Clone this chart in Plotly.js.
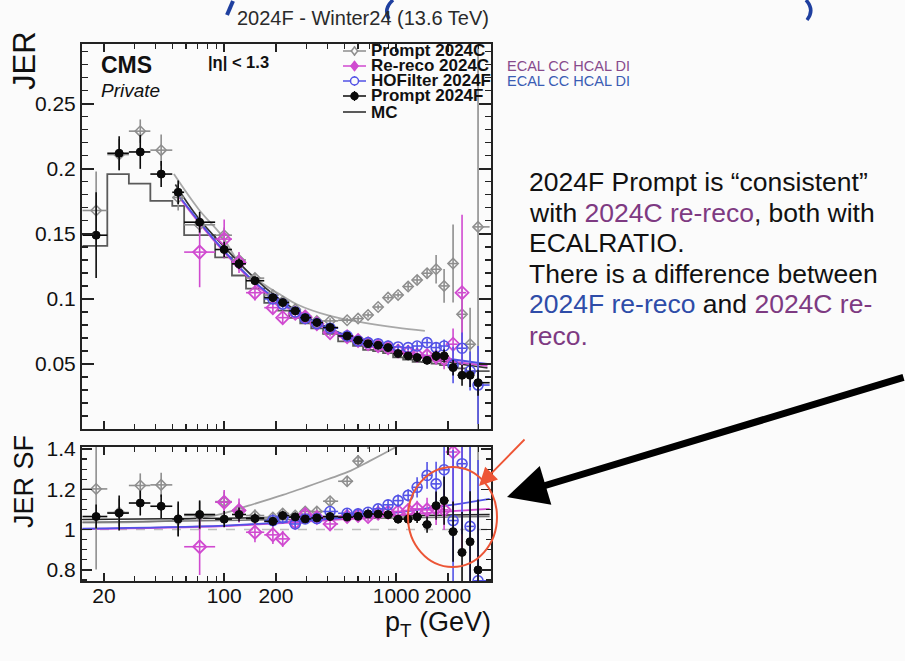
<!DOCTYPE html>
<html><head><meta charset="utf-8">
<script src="https://cdn.plot.ly/plotly-3.0.1.min.js"></script>
<style>html,body{margin:0;padding:0;background:#fbfbfb;}#chart{width:905px;height:661px;}</style>
</head><body><div id="chart"></div>
<script>
// ---------------- data ----------------
const pt = [18, 24.5, 32.5, 43, 54, 72, 100, 122, 151, 192, 219, 259, 296, 346, 413, 519, 601, 687, 786, 898, 1027, 1175, 1325, 1514, 1709, 1902, 2145, 2419, 2694, 2997];
const ptEdges = [15, 20.9, 27.9, 37.2, 49.9, 58.5, 88.6, 111, 134, 171, 206, 239, 277, 321, 376, 460, 562, 643, 735, 840, 961, 1099, 1248, 1416, 1608, 1802, 2020, 2279, 2555, 2840, 3500];

// JER (upper panel)
const jerPrompt24C = [0.168, 0.211, 0.229, 0.2144, 0.178, 0.157, 0.149, 0.130, 0.116, 0.103, 0.098, 0.092, 0.087, 0.083, 0.0831, 0.0836, 0.0849, 0.0877, 0.0938, 0.101, 0.1031, 0.1095, 0.1146, 0.1198, 0.1228, 0.110, 0.1272, 0.0882, 0.0652, 0.1554];
const errPrompt24C = [0.03, 0.012, 0.009, 0.012, 0.01, 0.008, 0.006, 0.005, 0.004, 0.003, 0.003, 0.002, 0.002, 0.002, 0.002, 0.002, 0.002, 0.002, 0.002, 0.002, 0.002, 0.003, 0.003, 0.004, 0.011, 0.013, 0.03, 0.02, 0.028, 0.2];
const jerRereco24C = [null, null, null, null, null, 0.136, 0.146, 0.128, 0.1048, 0.0933, 0.0856, 0.089, 0.086, 0.081, 0.0741, 0.071, 0.068, 0.0655, 0.064, 0.0625, 0.060, 0.059, 0.0568, 0.0565, 0.0554, 0.0539, 0.0652, 0.1048, null, null];
const errRereco24C = [null, null, null, null, null, 0.027, 0.015, 0.008, 0.006, 0.005, 0.005, 0.004, 0.004, 0.003, 0.003, 0.003, 0.003, 0.003, 0.003, 0.003, 0.003, 0.003, 0.003, 0.004, 0.006, 0.008, 0.012, 0.06, null, null];
const jerHOFilter24F = [null, null, null, null, null, null, null, null, null, 0.100, 0.096, 0.090, 0.085, 0.081, 0.0775, 0.0715, 0.0677, 0.0664, 0.0656, 0.0638, 0.0631, 0.0626, 0.0638, 0.0664, 0.0626, 0.0638, 0.0492, 0.0621, 0.0446, 0.0338];
const errHOFilter24F = [null, null, null, null, null, null, null, null, null, 0.003, 0.003, 0.002, 0.002, 0.002, 0.002, 0.002, 0.002, 0.002, 0.002, 0.002, 0.002, 0.002, 0.003, 0.003, 0.004, 0.005, 0.014, 0.012, 0.015, 0.03];
const jerPrompt24F = [0.149, 0.212, 0.213, 0.196, 0.182, 0.159, 0.138, 0.127, 0.114, 0.101, 0.0972, 0.0908, 0.0856, 0.0818, 0.0780, 0.0715, 0.0682, 0.0656, 0.0644, 0.0626, 0.0580, 0.0562, 0.0549, 0.0528, 0.0562, 0.0562, 0.0472, 0.0413, 0.0413, 0.0356];
const errPrompt24F = [0.033, 0.013, 0.013, 0.01, 0.009, 0.008, 0.006, 0.004, 0.003, 0.003, 0.002, 0.002, 0.002, 0.002, 0.002, 0.002, 0.002, 0.002, 0.002, 0.002, 0.002, 0.002, 0.003, 0.003, 0.004, 0.005, 0.006, 0.008, 0.009, 0.01];
const jerMC = [0.1408, 0.196, 0.1887, 0.1754, 0.1715, 0.149, 0.132, 0.118, 0.108, 0.097, 0.091, 0.0854, 0.0813, 0.0773, 0.0732, 0.0673, 0.064, 0.0609, 0.0598, 0.0583, 0.0551, 0.0534, 0.0516, 0.0515, 0.0502, 0.0491, 0.0477, 0.0466, 0.0440, 0.0445];

// fitted JER curves (upper panel)
const fitJerPt24C = [51, 71, 97, 125, 169, 217, 264, 413, 645, 1010, 1470];
const fitJer24C = [0.196, 0.169, 0.1485, 0.126, 0.1115, 0.1025, 0.0959, 0.0869, 0.0818, 0.0779, 0.0754];
const fitJerPt = [52, 70, 100, 150, 200, 300, 500, 1000, 2000, 3400];
const fitJer24F = [0.188, 0.163, 0.140, 0.116, 0.102, 0.0865, 0.0725, 0.0595, 0.0515, 0.047];
const fitJerHOF24F = [0.183, 0.161, 0.137, 0.113, 0.100, 0.0855, 0.0722, 0.0605, 0.054, 0.050];
const fitJerRereco24C = [0.182, 0.160, 0.136, 0.112, 0.099, 0.0848, 0.0715, 0.0598, 0.0525, 0.0485];

// JER SF (lower panel)
const sfPrompt24C = [1.202, 1.085, 1.219, 1.222, 1.05, 1.07, 1.139, 1.095, 1.07, 1.06, 1.08, 1.07, 1.09, 1.09, 1.141, 1.24, 1.34, 1.44, 1.57, 1.73, 1.87, 2.05, 2.22, 2.33, 2.45, 2.24, 2.67, 1.89, 1.48, 3.5];
const sfErrPrompt24C = [0.4, 0.07, 0.06, 0.06, 0.08, 0.07, 0.05, 0.04, 0.03, 0.025, 0.025, 0.02, 0.02, 0.02, 0.02, 0.025, 0.03, 0.04, 0.04, 0.05, 0.05, 0.06, 0.07, 0.1, 0.23, 0.27, 0.63, 0.43, 0.63, 4.5];
const sfRereco24C = [null, null, null, null, null, 0.915, 1.136, 1.095, 0.987, 0.974, 0.954, 1.036, 1.075, 1.06, 1.028, 1.065, 1.07, 1.065, 1.081, 1.086, 1.09, 1.095, 1.103, 1.098, 1.103, 1.098, 1.385, 2.2, null, null];
const sfErrRereco24C = [null, null, null, null, null, 0.14, 0.06, 0.06, 0.05, 0.045, 0.04, 0.035, 0.03, 0.025, 0.025, 0.025, 0.025, 0.025, 0.025, 0.03, 0.03, 0.035, 0.04, 0.06, 0.08, 0.1, 0.3, 1.3, null, null];
const sfHOFilter24F = [null, null, null, null, null, null, null, null, null, 1.045, 1.06, 1.028, 1.053, 1.055, 1.09, 1.081, 1.078, 1.086, 1.103, 1.123, 1.144, 1.17, 1.21, 1.269, 1.227, 1.297, 1.045, 1.327, 1.016, 0.746];
const sfErrHOFilter24F = [null, null, null, null, null, null, null, null, null, 0.03, 0.03, 0.02, 0.02, 0.02, 0.02, 0.02, 0.02, 0.02, 0.02, 0.025, 0.03, 0.03, 0.05, 0.066, 0.11, 0.15, 0.35, 0.35, 0.4, 0.6];
const sfPrompt24F = [1.065, 1.082, 1.132, 1.116, 1.053, 1.075, 1.052, 1.075, 1.055, 1.041, 1.07, 1.063, 1.053, 1.058, 1.065, 1.062, 1.066, 1.078, 1.077, 1.074, 1.052, 1.052, 1.063, 1.025, 1.119, 1.144, 0.99, 0.887, 0.94, 0.80];
const sfErrPrompt24F = [0.06, 0.087, 0.062, 0.058, 0.087, 0.07, 0.04, 0.035, 0.025, 0.02, 0.02, 0.015, 0.015, 0.015, 0.015, 0.015, 0.015, 0.015, 0.015, 0.02, 0.02, 0.025, 0.03, 0.04, 0.07, 0.12, 0.15, 0.2, 0.25, 0.35];

// fitted SF curves (lower panel)
const fitSfPt24C = [15, 50, 90, 140, 220, 400, 520, 700, 950, 1200];
const fitSf24C = [1.035, 1.045, 1.072, 1.12, 1.172, 1.25, 1.285, 1.34, 1.40, 1.45];
const fitSfPt = [15, 100, 300, 1000, 2000, 3500];
const fitSf24F = [1.05, 1.057, 1.063, 1.069, 1.072, 1.075];
const fitSfMC = [1.036, 1.045, 1.052, 1.058, 1.062, 1.065];
const fitSfHOF24F = [1.005, 1.02, 1.045, 1.085, 1.12, 1.153];
const fitSfRereco24C = [1.003, 1.018, 1.04, 1.07, 1.09, 1.103];

const xTickVals = [20, 100, 200, 1000, 2000];
const xTickText = ['20', '100', '200', '1000', '2000'];
const xMinorVals = [30, 40, 50, 60, 70, 80, 90, 300, 400, 500, 600, 700, 800, 900, 3000];
const yTopTickVals = [0.05, 0.1, 0.15, 0.2, 0.25];
const yTopTickText = ['0.05', '0.1', '0.15', '0.2', '0.25'];
const yBotTickVals = [0.8, 1, 1.2, 1.4];
const yBotTickText = ['0.8', '1', '1.2', '1.4'];

const legendLabels = ['Prompt 2024C', 'Re-reco 2024C', 'HOFilter 2024F', 'Prompt 2024F', 'MC'];

// ---------------- styling / construction ----------------
const W = 905, H = 661;
const PX = x => x / W, PY = y => 1 - y / H;
const FONT = 'Liberation Sans, Arial, Helvetica, sans-serif';
const C_GRAY = '#8e8e8e', C_MAG = '#d04ad0', C_BLUE = '#5252e6', C_BLACK = '#0a0a0a', C_MC = '#5a5a5a';

const exPlus = pt.map((p, i) => ptEdges[i + 1] - p);
const exMinus = pt.map((p, i) => p - ptEdges[i]);

function pts(y, err, name, color, symbol, size, xa, ya, lw) {
  return {
    type: 'scatter', mode: 'markers', x: pt, y: y, name: name, showlegend: false,
    xaxis: xa, yaxis: ya, cliponaxis: true,
    marker: {symbol: symbol, size: size, color: color, line: {color: color, width: lw}},
    error_y: {type: 'data', array: err, symmetric: true, color: color, thickness: 1.6, width: 0},
    error_x: {type: 'data', array: exPlus, arrayminus: exMinus, symmetric: false, color: color, thickness: 1.6, width: 0}
  };
}
function fit(x, y, color, w, xa, ya) {
  return {type: 'scatter', mode: 'lines', x: x, y: y, xaxis: xa, yaxis: ya, showlegend: false,
    line: {color: color, width: w, shape: 'spline'}, hoverinfo: 'skip'};
}

const traces = [
  {type: 'scatter', mode: 'lines', x: ptEdges, y: jerMC.concat([jerMC[jerMC.length - 1]]), xaxis: 'x2', yaxis: 'y2',
   showlegend: false, name: 'MC', line: {color: C_MC, width: 1.8, shape: 'hv'}},
  fit(fitJerPt24C, fitJer24C, '#a8a8a8', 1.8, 'x2', 'y2'),
  fit(fitJerPt, fitJer24F, '#333333', 1.6, 'x2', 'y2'),
  fit(fitJerPt, fitJerRereco24C, C_MAG, 1.8, 'x2', 'y2'),
  fit(fitJerPt, fitJerHOF24F, C_BLUE, 1.8, 'x2', 'y2'),
  pts(jerPrompt24C, errPrompt24C, 'Prompt 2024C', C_GRAY, 'diamond-open', 8, 'x2', 'y2', 1.5),
  pts(jerRereco24C, errRereco24C, 'Re-reco 2024C', C_MAG, 'diamond-open', 10, 'x2', 'y2', 1.8),
  pts(jerHOFilter24F, errHOFilter24F, 'HOFilter 2024F', C_BLUE, 'circle-open', 10, 'x2', 'y2', 1.6),
  pts(jerPrompt24F, errPrompt24F, 'Prompt 2024F', C_BLACK, 'circle', 8, 'x2', 'y2', 1),

  fit(fitSfPt24C, fitSf24C, '#a0a0a0', 1.8, 'x', 'y'),
  fit(fitSfPt, fitSfMC, '#777777', 1.5, 'x', 'y'),
  fit(fitSfPt, fitSf24F, '#222222', 1.5, 'x', 'y'),
  fit(fitSfPt, fitSfRereco24C, C_MAG, 1.8, 'x', 'y'),
  fit(fitSfPt, fitSfHOF24F, C_BLUE, 1.8, 'x', 'y'),
  pts(sfPrompt24C, sfErrPrompt24C, 'Prompt 2024C', C_GRAY, 'diamond-open', 8, 'x', 'y', 1.5),
  pts(sfRereco24C, sfErrRereco24C, 'Re-reco 2024C', C_MAG, 'diamond-open', 10, 'x', 'y', 1.8),
  pts(sfHOFilter24F, sfErrHOFilter24F, 'HOFilter 2024F', C_BLUE, 'circle-open', 10, 'x', 'y', 1.6),
  pts(sfPrompt24F, sfErrPrompt24F, 'Prompt 2024F', C_BLACK, 'circle', 8, 'x', 'y', 1)
];

const xDom = [PX(82), PX(491)];
const tickFont = {family: FONT, size: 21, color: '#111'};
function xAxis(anchor, labels) {
  return {domain: xDom, anchor: anchor, type: 'log', range: [1.173, 3.552],
    tickmode: 'array', tickvals: xTickVals, ticktext: xTickText, showticklabels: labels,
    ticks: 'inside', ticklen: 8, tickwidth: 1.5, tickcolor: '#222', ticklabelstandoff: -5,
    minor: {ticks: 'inside', ticklen: 5, tickwidth: 1.2, tickcolor: '#222', tickmode: 'array', tickvals: xMinorVals, showgrid: false},
    showline: true, linecolor: '#222', linewidth: 2, mirror: 'allticks',
    showgrid: false, zeroline: false, tickfont: tickFont};
}
function yAxis(anchor, dom, range, tv, tt, minorDt, tl) {
  return {domain: dom, anchor: anchor, range: range, tickmode: 'array', tickvals: tv, ticktext: tt,
    ticks: 'inside', ticklen: tl, tickwidth: 1.5, tickcolor: '#222',
    minor: {ticks: 'inside', ticklen: tl / 2, tickwidth: 1.2, tickcolor: '#222', dtick: minorDt, tick0: 0, showgrid: false},
    showline: true, linecolor: '#222', linewidth: 2, mirror: 'allticks',
    showgrid: false, zeroline: false, tickfont: tickFont};
}

function txt(text, x, y, size, o) {
  o = o || {};
  return {text: text, x: PX(x), y: PY(y), xref: 'paper', yref: 'paper', showarrow: false,
    xanchor: o.xa || 'left', yanchor: 'middle', textangle: o.angle || 0,
    font: {family: FONT, size: size, color: o.color || '#111'}};
}

const annotations = [
  txt('2024F - Winter24 (13.6 TeV)', 491, 18, 20, {xa: 'right', color: '#2a2a2a'}),
  txt('<b>CMS</b>', 99, 65, 23),
  txt('<i>Private</i>', 99, 90, 19),
  txt('<b>|η| < 1.3</b>', 206, 62, 16.5),
  txt('JER', 24, 61, 31, {xa: 'center', angle: -90}),
  txt('JER SF', 24, 482, 27, {xa: 'center', angle: -90}),
  txt('p<sub>T</sub> (GeV)', 493, 624, 27, {xa: 'right'}),
  txt('ECAL CC HCAL DI', 505, 66, 14.5, {color: '#874a8c'}),
  txt('ECAL CC HCAL DI', 505, 81, 14.5, {color: '#3a5cb4'}),
  txt('2024F Prompt is “consistent”', 527, 182, 26.5),
  txt('with <span style="color:#7e3a82">2024C re-reco</span>, both with', 527, 212.5, 26.5),
  txt('ECALRATIO.', 527, 243, 26.5),
  txt('There is a difference between', 527, 273.5, 26.5),
  txt('<span style="color:#2e4ca8">2024F re-reco</span> and <span style="color:#7e3a82">2024C re-</span>', 527, 304, 26.5),
  txt('<span style="color:#7e3a82">reco.</span>', 527, 336, 26.5),
  {x: PX(507), y: PY(497), xref: 'paper', yref: 'paper', text: '', showarrow: true,
   ax: 400, ay: -120, arrowhead: 2, arrowsize: 1.15, arrowwidth: 7, arrowcolor: '#000'},
  {x: PX(479), y: PY(486), xref: 'paper', yref: 'paper', text: '', showarrow: true,
   ax: 47, ay: -48, arrowhead: 2, arrowsize: 2, arrowwidth: 1.8, arrowcolor: '#ee5535'}
];

const legendRows = [51, 66, 81, 96, 112];
const legendColors = [C_GRAY, C_MAG, C_BLUE, C_BLACK, C_MC];
legendLabels.forEach((l, i) => annotations.push(txt('<b>' + l + '</b>', 369, legendRows[i], 17)));

const shapes = [
  {type: 'line', xref: 'paper', yref: 'y', x0: xDom[0], x1: xDom[1], y0: 1, y1: 1,
   line: {color: '#bdbdbd', width: 1.5, dash: 'dash'}, layer: 'below'},
  {type: 'circle', xref: 'paper', yref: 'paper', x0: PX(408), x1: PX(497), y0: PY(567), y1: PY(467),
   line: {color: '#ec5536', width: 2}},
  {type: 'line', xref: 'paper', yref: 'paper', x0: PX(227), y0: PY(15), x1: PX(233), y1: PY(1), line: {color: '#1f3f9f', width: 4}},
  {type: 'path', xref: 'paper', yref: 'paper', path: `M ${PX(393)},${PY(0)} Q ${PX(383)},${PY(9)} ${PX(389)},${PY(19)}`, line: {color: '#1f3f9f', width: 3.5}},
  {type: 'path', xref: 'paper', yref: 'paper', path: `M ${PX(806)},${PY(0)} Q ${PX(815)},${PY(10)} ${PX(807)},${PY(20)}`, line: {color: '#1f3f9f', width: 3.5}}
];
// legend icons
legendRows.forEach((r, i) => {
  const c = legendColors[i];
  shapes.push({type: 'line', xref: 'paper', yref: 'paper', x0: PX(343), x1: PX(366), y0: PY(r), y1: PY(r), line: {color: c, width: i === 4 ? 2 : 1.5}});
  if (i < 4) shapes.push({type: 'line', xref: 'paper', yref: 'paper', x0: PX(354.5), x1: PX(354.5), y0: PY(r - 5), y1: PY(r + 5), line: {color: c, width: 1.2}});
});
function diamond(cx, cy, r, color, fill) {
  return {type: 'path', xref: 'paper', yref: 'paper',
    path: `M ${PX(cx)},${PY(cy - r)} L ${PX(cx + r * 0.8)},${PY(cy)} L ${PX(cx)},${PY(cy + r)} L ${PX(cx - r * 0.8)},${PY(cy)} Z`,
    line: {color: color, width: 1.5}, fillcolor: fill};
}
function circ(cx, cy, r, color, fill) {
  return {type: 'circle', xref: 'paper', yref: 'paper', x0: PX(cx - r), x1: PX(cx + r), y0: PY(cy + r), y1: PY(cy - r),
    line: {color: color, width: 1.5}, fillcolor: fill};
}
shapes.push(diamond(354.5, legendRows[0], 4, C_GRAY, '#fbfbfb'));
shapes.push(diamond(354.5, legendRows[1], 4.5, C_MAG, C_MAG));
shapes.push(circ(354.5, legendRows[2], 4, C_BLUE, '#fbfbfb'));
shapes.push(circ(354.5, legendRows[3], 3.5, C_BLACK, C_BLACK));

const layout = {
  width: W, height: H, margin: {l: 0, r: 0, t: 0, b: 0},
  paper_bgcolor: '#fbfbfb', plot_bgcolor: '#fbfbfb', showlegend: false,
  font: {family: FONT, color: '#111'},
  xaxis: xAxis('y', true),
  xaxis2: xAxis('y2', false),
  yaxis: yAxis('x', [PY(581), PY(447)], [0.745, 1.41], yBotTickVals, yBotTickText, 0.05, 10),
  yaxis2: yAxis('x2', [PY(429), PY(44)], [0, 0.296], yTopTickVals, yTopTickText, 0.01, 12),
  annotations: annotations, shapes: shapes
};
Plotly.newPlot('chart', traces, layout, {displayModeBar: false, staticPlot: true});
</script>
</body></html>
